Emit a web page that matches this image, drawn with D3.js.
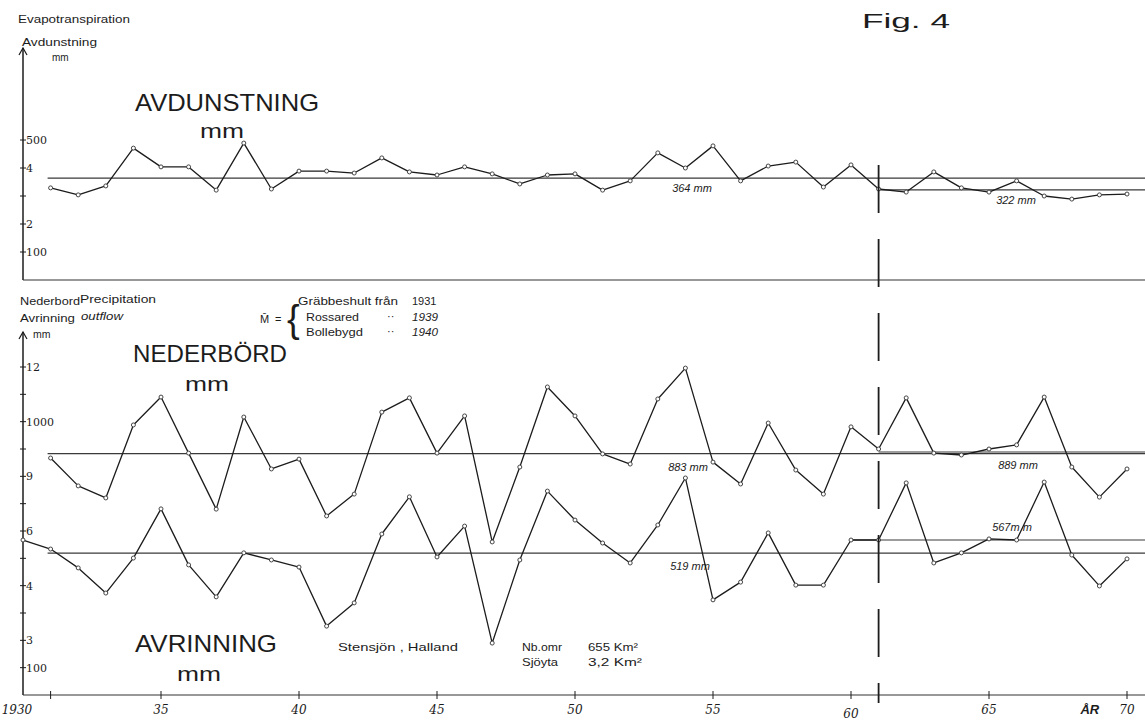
<!DOCTYPE html>
<html>
<head>
<meta charset="utf-8">
<script src="https://cdn.jsdelivr.net/npm/d3@7"></script>
<style>
  body { margin: 0; background: #fff; }
  text { font-family: "Liberation Sans", "DejaVu Sans", sans-serif; fill: #1c1c1c; }
</style>
</head>
<body>
<svg id="chart"></svg>
<script>
// years on the x axis
const years = [1931, 1932, 1933, 1934, 1935, 1936, 1937, 1938, 1939, 1940,
  1941, 1942, 1943, 1944, 1945, 1946, 1947, 1948, 1949, 1950,
  1951, 1952, 1953, 1954, 1955, 1956, 1957, 1958, 1959, 1960,
  1961, 1962, 1963, 1964, 1965, 1966, 1967, 1968, 1969, 1970];
const runoffYears = [1930].concat(years);

// Avdunstning / evapotranspiration, mm
const evap = [329, 304, 336, 471, 404, 404, 321, 489, 325, 389,
  389, 382, 436, 386, 375, 404, 379, 343, 375, 379,
  321, 354, 454, 400, 479, 354, 407, 421, 332, 411,
  325, 314, 386, 329, 314, 354, 300, 289, 304, 307];

// Nederbörd / precipitation, mm
const precip = [867, 765, 721, 988, 1090, 885, 680, 1017, 827, 863,
  655, 735, 1035, 1087, 885, 1021, 560, 834, 1127, 1021,
  882, 845, 1083, 1196, 852, 772, 995, 823, 735, 981,
  900, 1087, 885, 878, 900, 915, 1090, 834, 724, 827];

// Avrinning / runoff, mm (starts 1930)
const runoff = [567, 534, 465, 373, 501, 681, 476, 359, 520, 494, 468,
  252, 337, 589, 725, 505, 618, 190, 494, 746, 640,
  556, 483, 622, 794, 348, 413, 593, 402, 402, 567,
  567, 776, 483, 520, 571, 567, 779, 512, 399, 498];

// mean lines: [value, first year, label]
const evapMeans = [[364, 1931, "364 mm"], [322, 1961, "322 mm"]];
const precipMeans = [[883, 1931, "883 mm"], [889, 1961, "889 mm"]];
const runoffMeans = [[519, 1931, "519 mm"], [567, 1960, "567m m"]];

// tick labels as written on the drawing
const xTicks = [1930, 1935, 1940, 1945, 1950, 1955, 1960, 1965, 1970];
const xTickLabels = ["1930", "35", "40", "45", "50", "55", "60", "65", "70"];
const topTicks = [100, 200, 300, 400, 500];
const topTickLabels = ["100", "2", "", "4", "500"];
const lowTicks = [100, 200, 300, 400, 500, 600, 700, 800, 900, 1000, 1100, 1200];
const lowTickLabels = ["100", "3", "", "4", "", "6", "", "9", "", "1000", "", "12"];

const WIDTH = 1145;
const HEIGHT = 720;
const INK = "#1c1c1c";

let svg = d3.select("#chart")
  .attr("width", WIDTH)
  .attr("height", HEIGHT);

let x = d3.scaleLinear().domain([1930, 1970]).range([23, 1127]);
let yTop = d3.scaleLinear().domain([0, 500]).range([280, 140]);
let yLow = d3.scaleLinear().domain([0, 1200]).range([695, 367]);

// ---- axes ----
function arrowAxis(y0, y1) {
  svg.append("line")
    .attr("x1", x(1930)).attr("x2", x(1930))
    .attr("y1", y0).attr("y2", y1)
    .style("stroke", INK).style("stroke-width", 1.5);
  svg.append("path")
    .attr("d", `M${x(1930) - 4},${y0 + 7} L${x(1930)},${y0} L${x(1930) + 4},${y0 + 7}`)
    .style("fill", "none").style("stroke", INK).style("stroke-width", 1.2);
}
arrowAxis(48, 280);
arrowAxis(332, 695);

// horizontal base lines
svg.append("line")
  .attr("x1", x(1930)).attr("x2", WIDTH)
  .attr("y1", yTop(0)).attr("y2", yTop(0))
  .style("stroke", "#333").style("stroke-width", 1.2);
svg.append("line")
  .attr("x1", x(1930)).attr("x2", WIDTH)
  .attr("y1", yLow(0)).attr("y2", yLow(0))
  .style("stroke", "#333").style("stroke-width", 1.2);

// y ticks, small crosses on the axis
svg.selectAll(".topTick")
  .data(topTicks)
.enter().append("line")
  .attr("class", "topTick")
  .attr("x1", x(1930) - 3).attr("x2", x(1930) + 3)
  .attr("y1", d => yTop(d)).attr("y2", d => yTop(d))
  .style("stroke", INK);
svg.selectAll(".topTickLabel")
  .data(topTicks)
.enter().append("text")
  .attr("class", "topTickLabel")
  .attr("x", x(1930) + 3)
  .attr("y", d => yTop(d) + 4)
  .style("font-size", "11px")
  .style("font-family", "'DejaVu Serif', serif")
  .text((d, i) => topTickLabels[i]);

svg.selectAll(".lowTick")
  .data(lowTicks)
.enter().append("line")
  .attr("class", "lowTick")
  .attr("x1", x(1930) - 3).attr("x2", x(1930) + 3)
  .attr("y1", d => yLow(d)).attr("y2", d => yLow(d))
  .style("stroke", INK);
svg.selectAll(".lowTickLabel")
  .data(lowTicks)
.enter().append("text")
  .attr("class", "lowTickLabel")
  .attr("x", x(1930) + 3)
  .attr("y", d => yLow(d) + 4)
  .style("font-size", "11px")
  .style("font-family", "'DejaVu Serif', serif")
  .text((d, i) => lowTickLabels[i]);

// x ticks
svg.selectAll(".xTick")
  .data([1931].concat(xTicks.slice(1)))
.enter().append("line")
  .attr("class", "xTick")
  .attr("x1", d => x(d)).attr("x2", d => x(d))
  .attr("y1", yLow(0) - 4).attr("y2", yLow(0) + 4)
  .style("stroke", INK);
svg.selectAll(".xTickLabel")
  .data(xTicks)
.enter().append("text")
  .attr("class", "xTickLabel")
  .attr("x", d => x(d) + (d === 1930 ? -6 : 0))
  .attr("y", d => d === 1960 ? 718 : 714)
  .attr("text-anchor", "middle")
  .style("font-size", "12px")
  .style("font-style", "italic")
  .style("font-family", "'DejaVu Serif', serif")
  .text((d, i) => xTickLabels[i]);
svg.append("text")
  .attr("x", x(1968) + 18).attr("y", 714)
  .attr("text-anchor", "middle")
  .style("font-size", "13px").style("font-weight", "bold").style("font-style", "italic")
  .text("ÅR");

// ---- mean lines ----
function meanLines(data, yScale) {
  svg.selectAll(null)
    .data(data)
  .enter().append("line")
    .attr("x1", d => d[1] === 1931 ? x(1931) - 3 : x(d[1]))
    .attr("x2", WIDTH)
    .attr("y1", d => yScale(d[0])).attr("y2", d => yScale(d[0]))
    .style("stroke", "#3a3a3a").style("stroke-width", 1.1);
}
meanLines(evapMeans, yTop);
meanLines(precipMeans, yLow);
meanLines(runoffMeans, yLow);

// mean labels
const meanLabelPos = [
  [evapMeans[0], yTop, 692, 14], [evapMeans[1], yTop, 1016, 14],
  [precipMeans[0], yLow, 688, 17], [precipMeans[1], yLow, 1018, 17],
  [runoffMeans[0], yLow, 690, 17], [runoffMeans[1], yLow, 1012, -9]
];
meanLabelPos.forEach(p => {
  svg.append("text")
    .attr("x", p[2]).attr("y", p[1](p[0][0]) + p[3])
    .attr("text-anchor", "middle")
    .style("font-size", "11px").style("font-style", "italic")
    .text(p[0][2]);
});

// ---- series ----
function series(xs, vals, yScale) {
  let pts = xs.map((yr, i) => [yr, vals[i]]);
  svg.append("path")
    .datum(pts)
    .attr("d", d3.line().x(d => x(d[0])).y(d => yScale(d[1])))
    .style("fill", "none").style("stroke", INK)
    .style("stroke-width", 1.3).style("stroke-linejoin", "round");
  svg.selectAll(null)
    .data(pts)
  .enter().append("circle")
    .attr("cx", d => x(d[0])).attr("cy", d => yScale(d[1]))
    .attr("r", 2)
    .style("fill", "#fff").style("stroke", "#444").style("stroke-width", 1);
}
series(years, evap, yTop);
series(years, precip, yLow);
series(runoffYears, runoff, yLow);

// 1961 divider
svg.append("line")
  .attr("x1", x(1961)).attr("x2", x(1961))
  .attr("y1", 165).attr("y2", 703)
  .style("stroke", INK).style("stroke-width", 1.8)
  .style("stroke-dasharray", "48,26");

// ---- texts ----
function label(txt, px, py, size, opts) {
  let t = svg.append("text").attr("x", px).attr("y", py)
    .style("font-size", size + "px").text(txt);
  if (opts && opts.len) t.attr("textLength", opts.len).attr("lengthAdjust", "spacingAndGlyphs");
  if (opts && opts.italic) t.style("font-style", "italic");
  return t;
}

label("Evapotranspiration", 18, 23, 10, { len: 112 });
label("Avdunstning", 22, 46, 11, { len: 75 });
label("mm", 52, 61, 10);
label("Fig. 4", 862, 28, 20, { len: 88 }).style("font-weight", "300");

label("AVDUNSTNING", 135, 111, 24, { len: 184 });
label("mm", 200, 138, 20, { len: 44 });

label("Nederbord", 20, 305, 10.5, { len: 60 });
label("Precipitation", 80, 303, 10.5, { len: 76 });
label("Avrinning", 20, 322, 10.5, { len: 55 });
label("outflow", 81, 320, 10.5, { len: 42, italic: true });
label("mm", 33, 338, 10.5);

label("M\u0304", 260, 323, 11);
label("=", 275, 323, 11);
label("{", 287, 332, 38).style("font-weight", "100");
label("Gräbbeshult från", 298, 305, 11, { len: 100 });
label("1931", 412, 305, 11);
label("Rossared", 306, 321, 11, { len: 53 });
label("··", 387, 320, 11);
label("1939", 412, 321, 11, { len: 26 }).style("font-style", "italic");
label("Bollebygd", 306, 336, 11, { len: 57 });
label("··", 387, 335, 11);
label("1940", 412, 336, 11, { len: 26 }).style("font-style", "italic");

label("NEDERBÖRD", 133, 362, 24, { len: 154 });
label("mm", 185, 391, 20, { len: 44 });

label("AVRINNING", 135, 652, 24, { len: 142 });
label("mm", 177, 681, 20, { len: 44 });
label("Stensjön , Halland", 338, 651, 11, { len: 120 });
label("Nb.omr", 522, 651, 11, { len: 40 });
label("655 Km²", 588, 651, 11, { len: 50 });
label("Sjöyta", 522, 666, 11, { len: 36 });
label("3,2  Km²", 588, 666, 11, { len: 54 });
</script>
</body>
</html>
